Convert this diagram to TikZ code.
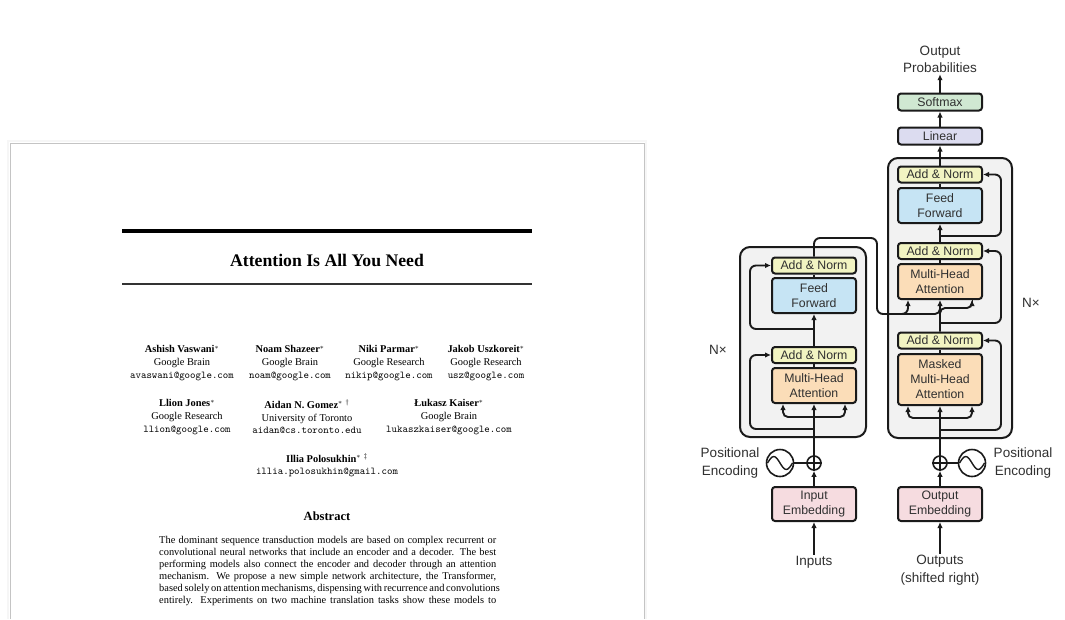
\documentclass[tikz,border=0pt]{standalone}
\usepackage{fontspec}
\setmainfont{Liberation Serif}
\newfontfamily\diagfont{Liberation Sans}
\usetikzlibrary{arrows.meta}
\definecolor{ancol}{HTML}{F2F4C2}
\definecolor{ffcol}{HTML}{C6E4F4}
\definecolor{mhacol}{HTML}{FBDDB8}
\definecolor{embcol}{HTML}{F6DCE0}
\definecolor{lincol}{HTML}{DCDCF0}
\definecolor{smcol}{HTML}{D0E8D2}
\definecolor{blockcol}{HTML}{F2F2F2}
\definecolor{linec}{HTML}{1A1A1A}
\definecolor{txtc}{HTML}{303030}
\definecolor{pageedge}{HTML}{C4C4C4}
\begin{document}
\begin{tikzpicture}[x=1pt,y=-1pt,
  ln/.style={draw=linec, line width=1.9pt},
  arr/.style={ln, -{Latex[length=6pt,width=5.5pt]}},
  res/.style={arr, rounded corners=6pt},
  fork/.style={arr, rounded corners=5pt},
  dbox/.style={draw=linec, line width=2pt, rounded corners=3pt, minimum width=84pt, inner sep=0pt,
    font=\diagfont\fontsize{12.3}{15}\selectfont, text=txtc, align=center},
  anbox/.style={dbox, fill=ancol, minimum height=16pt},
  ffbox/.style={dbox, fill=ffcol, minimum height=35pt},
  mhabox/.style={dbox, fill=mhacol, minimum height=35pt},
  embbox/.style={dbox, fill=embcol, minimum height=34pt},
  blk/.style={draw=linec, line width=2pt, rounded corners=10pt, fill=blockcol, inner sep=0pt},
  lab/.style={font=\diagfont\fontsize{13.5}{17.5}\selectfont, text=txtc, align=center, inner sep=1pt},
  pluscirc/.style={circle, draw=linec, line width=1.6pt, fill=white, minimum size=14pt, inner sep=0pt},
  sinecirc/.style={circle, draw=linec, line width=1.6pt, fill=white, minimum size=27pt, inner sep=0pt},
  author/.style={font=\fontsize{10.4}{12.6}\selectfont, align=center, inner sep=0pt},
  absl/.style={font=\fontsize{10.4}{12}\selectfont, anchor=base west, inner sep=0pt}
]
\useasboundingbox (0,0) rectangle (1065,619);
\fill[white] (0,0) rectangle (1065,619);

% ---------------- paper page ----------------
\draw[gray!7, line width=1.5pt] (8.2,619) -- (8.2,141.2) -- (645.8,141.2) -- (645.8,619);
\draw[pageedge, line width=0.9pt] (10,619) -- (10,143) -- (644,143) -- (644,619);
\draw[line width=4pt] (122,231) -- (532,231);
\draw[line width=1.1pt, black!80] (122,284) -- (532,284);
\node[font=\bfseries\fontsize{17.7}{20}\selectfont, inner sep=0pt] (title) at (327,260) {Attention Is All You Need};

\node[author] (a1) at (182,363) {\textbf{Ashish Vaswani}$^*$\\Google Brain\\\texttt{avaswani@google.com}};
\node[author] (a2) at (290,363) {\textbf{Noam Shazeer}$^*$\\Google Brain\\\texttt{noam@google.com}};
\node[author] (a3) at (389,363) {\textbf{Niki Parmar}$^*$\\Google Research\\\texttt{nikip@google.com}};
\node[author] (a4) at (486,363) {\textbf{Jakob Uszkoreit}$^*$\\Google Research\\\texttt{usz@google.com}};
\node[author] (a5) at (187,417) {\textbf{Llion Jones}$^*$\\Google Research\\\texttt{llion@google.com}};
\node[author] (a6) at (307,417) {\textbf{Aidan N. Gomez}$^*$ $^\dagger$\\University of Toronto\\\texttt{aidan@cs.toronto.edu}};
\node[author] (a7) at (449,417) {\textbf{Łukasz Kaiser}$^*$\\Google Brain\\\texttt{lukaszkaiser@google.com}};
\node[author] (a8) at (327,465.5) {\textbf{Illia Polosukhin}$^*$ $^\ddagger$\\\texttt{illia.polosukhin@gmail.com}};

\node[font=\bfseries\fontsize{12.5}{14}\selectfont, inner sep=0pt] (abst) at (327,516) {Abstract};
\node[absl] (ab1) at (159,543.5) {\makebox[337pt][s]{The dominant sequence transduction models are based on complex recurrent or}};
\node[absl] (ab2) at (159,555.5) {\makebox[337pt][s]{convolutional neural networks that include an encoder and a decoder. The best}};
\node[absl] (ab3) at (159,567.5) {\makebox[337pt][s]{performing models also connect the encoder and decoder through an attention}};
\node[absl] (ab4) at (159,579.5) {\makebox[337pt][s]{mechanism. We propose a new simple network architecture, the Transformer,}};
\node[absl] (ab5) at (159,591.5) {\makebox[337pt][s]{based solely on attention mechanisms, dispensing with recurrence and convolutions}};
\node[absl] (ab6) at (159,603.5) {\makebox[337pt][s]{entirely. Experiments on two machine translation tasks show these models to}};

% ---------------- transformer diagram ----------------
\node[blk, minimum width=126pt, minimum height=190pt] (eblock) at (803,342) {};
\node[blk, minimum width=124pt, minimum height=280pt] (dblock) at (950,298) {};

% encoder
\node[anbox] (eAN2) at (814,265.5) {Add \& Norm};
\node[ffbox] (eFF) at (814,295.5) {Feed\\Forward};
\node[anbox] (eAN1) at (814,355) {Add \& Norm};
\node[mhabox] (eMHA) at (814,385.5) {Multi-Head\\Attention};
\node[embbox] (eEmb) at (814,504) {Input\\Embedding};
\node[pluscirc] (eplus) at (814,463) {};
\node[sinecirc] (esine) at (780,463) {};
\node[lab] (ePE) at (730,463) {Positional\\Encoding};
\node[lab] (inputs) at (814,562) {Inputs};
\node[lab] (eN) at (718,350) {N×};

% decoder
\node[anbox] (dAN3) at (940,174.5) {Add \& Norm};
\node[ffbox] (dFF) at (940,205.5) {Feed\\Forward};
\node[anbox] (dAN2) at (940,251) {Add \& Norm};
\node[mhabox] (dMHA) at (940,281.5) {Multi-Head\\Attention};
\node[anbox] (dAN1) at (940,340.5) {Add \& Norm};
\node[mhabox, minimum height=51pt] (dMMHA) at (940,379.5) {Masked\\Multi-Head\\Attention};
\node[embbox] (dEmb) at (940,504) {Output\\Embedding};
\node[pluscirc] (dplus) at (940,463) {};
\node[sinecirc] (dsine) at (972,463) {};
\node[lab] (dPE) at (1023,463) {Positional\\Encoding};
\node[lab] (outputs) at (940,570) {Outputs\\(shifted right)};
\node[lab] (dN) at (1031,303) {N×};
\node[dbox, fill=lincol, minimum height=17pt] (linear) at (940,136) {Linear};
\node[dbox, fill=smcol, minimum height=17pt] (softmax) at (940,102) {Softmax};
\node[lab] (outprob) at (940,59.5) {Output\\Probabilities};

% plus signs and sine waves
\draw[ln, line width=1.3pt] (eplus.west) -- (eplus.east) (eplus.north) -- (eplus.south);
\draw[ln, line width=1.3pt] (dplus.west) -- (dplus.east) (dplus.north) -- (dplus.south);
\draw[ln, line width=1.4pt] (767.5,463) sin (773.75,456.5) cos (780,463) sin (786.25,469.5) cos (792.5,463);
\draw[ln, line width=1.4pt] (959.5,463) sin (965.75,456.5) cos (972,463) sin (978.25,469.5) cos (984.5,463);

% encoder connectors
\coordinate (eFork) at (814,417);
\coordinate (eRes1) at (814,429);
\coordinate (eRes2) at (814,329);
\draw[arr] (inputs.north) -- (eEmb.south);
\draw[arr] (eEmb.north) -- (eplus.south);
\draw[ln] (esine.east) -- (eplus.west);
\draw[arr] (eplus.north) -- (eMHA.south);
\draw[fork] (eFork) -| ([xshift=-31pt]eMHA.south);
\draw[fork] (eFork) -| ([xshift=31pt]eMHA.south);
\draw[res] (eRes1) -- (750,429) |- (eAN1.west);
\draw[ln] (eMHA.north) -- (eAN1.south);
\draw[arr] (eAN1.north) -- (eFF.south);
\draw[res] (eRes2) -- (750,329) |- (eAN2.west);
\draw[ln] (eFF.north) -- (eAN2.south);

% encoder -> decoder
\coordinate (xFork) at (900,314);
\draw[arr, rounded corners=6pt] (eAN2.north) -- (814,238) -- (877,238) -- (877,314) -| ([xshift=-32pt]dMHA.south);
\draw[fork] (xFork) -| (dMHA.south);

% decoder connectors
\coordinate (dFork) at (940,418);
\coordinate (dRes1) at (940,430);
\coordinate (dRes2) at (940,323);
\coordinate (dRes3) at (940,236);
\draw[arr] (outputs.north) -- (dEmb.south);
\draw[arr] (dEmb.north) -- (dplus.south);
\draw[ln] (dsine.west) -- (dplus.east);
\draw[arr] (dplus.north) -- (dMMHA.south);
\draw[fork] (dFork) -| ([xshift=-32pt]dMMHA.south);
\draw[fork] (dFork) -| ([xshift=32pt]dMMHA.south);
\draw[res] (dRes1) -- (1001,430) |- (dAN1.east);
\draw[ln] (dMMHA.north) -- (dAN1.south);
\draw[fork] (dAN1.north) -- (940,308) -| ([xshift=32pt]dMHA.south);
\draw[res] (dRes2) -- (1001,323) |- (dAN2.east);
\draw[ln] (dMHA.north) -- (dAN2.south);
\draw[arr] (dAN2.north) -- (dFF.south);
\draw[res] (dRes3) -- (1001,236) |- (dAN3.east);
\draw[ln] (dFF.north) -- (dAN3.south);
\draw[arr] (dAN3.north) -- (linear.south);
\draw[arr] (linear.north) -- (softmax.south);
\draw[arr] (softmax.north) -- (outprob.south);
\end{tikzpicture}
\end{document}
